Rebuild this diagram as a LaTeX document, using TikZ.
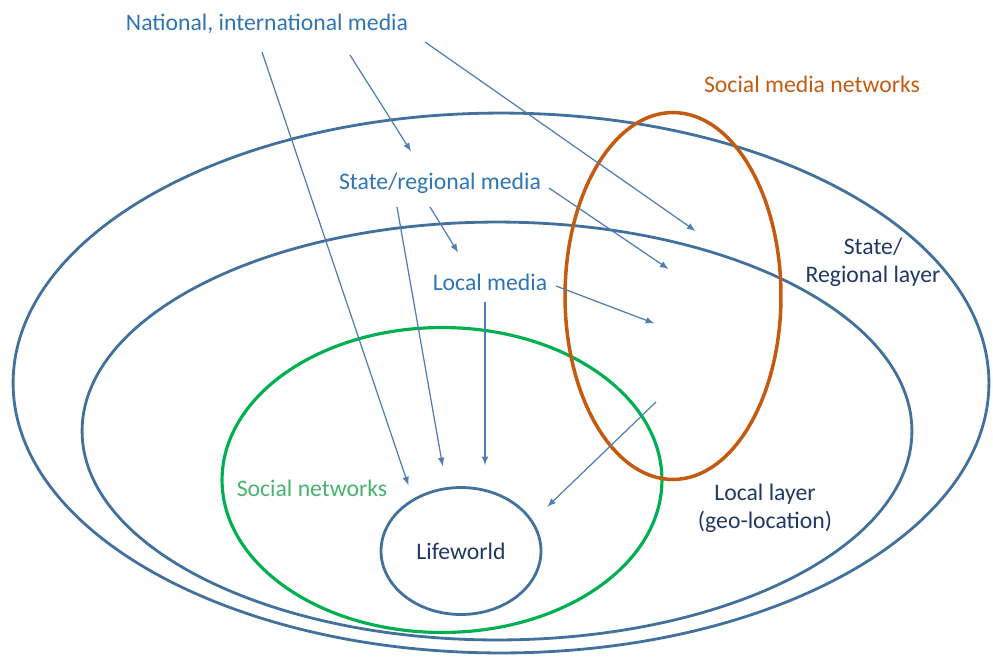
\documentclass[tikz,border=0pt]{standalone}
\usepackage{fontspec}
\setmainfont{Carlito}
\usepackage{tikz}
\usetikzlibrary{arrows,shapes.geometric}
\usetikzlibrary{positioning}

\definecolor{layerblue}{RGB}{65,113,156}
\definecolor{mediablue}{RGB}{46,117,182}
\definecolor{arrowblue}{RGB}{80,125,180}
\definecolor{layertext}{RGB}{32,56,100}
\definecolor{netgreen}{RGB}{0,176,80}
\definecolor{socgreen}{RGB}{70,180,110}
\definecolor{smorange}{RGB}{197,90,17}

\begin{document}
\begin{tikzpicture}[x=0.02cm, y=-0.02cm, font=\fontsize{13.5}{16}\selectfont,
  layer/.style={draw=layerblue, line width=1.6pt, ellipse, inner sep=0pt},
  media/.style={text=mediablue},
  feed/.style={-latex, draw=arrowblue, line width=0.7pt, shorten >=1pt}]
  \useasboundingbox (0,0) rectangle (993,656);

  % the layers, outer to inner
  \node[layer, minimum width=19.52cm, minimum height=10.8cm] (state)  at (501,383) {};
  \node[layer, minimum width=16.6cm, minimum height=8.36cm] (local)  at (497,431) {};
  \node[layer, draw=netgreen, line width=1.8pt, minimum width=8.8cm, minimum height=6.1cm] (social) at (442,480) {};
  \node[layer, draw=smorange, line width=2pt, minimum width=4.32cm, minimum height=7.34cm] (smn) at (673,296) {};
  \node[layer, minimum width=3.2cm, minimum height=2.54cm, text=layertext] (life) at (461,551) {Lifeworld};

  % labels
  \node[media] (nat)  at (267,24)  {National, international media};
  \node[media] (reg)  at (440,183) {State/regional media};
  \node[media] (loc)  at (490,282) {Local media};
  \node[text=smorange] (smnlbl) at (812,84) {Social media networks};
  \node[text=socgreen] (soclbl) at (312,488) {Social networks};
  \node[text=layertext, align=center] (statelbl) at (873,262) {State/\\Regional layer};
  \node[text=layertext, align=center] (loclbl)   at (765,508) {Local layer\\(geo-location)};

  % arrow ends
  \coordinate (n1) at (262,52);  \coordinate (n1e) at (409,487);
  \coordinate (n2) at (350,55);  \coordinate (n2e) at (412,153);
  \coordinate (n3) at (425,42);  \coordinate (n3e) at (697,232);
  \coordinate (r1) at (397,207); \coordinate (r1e) at (443,468);
  \coordinate (r2) at (430,207); \coordinate (r2e) at (459,254);
  \coordinate (r3) at (549,188); \coordinate (r3e) at (670,270);
  \coordinate (l1) at (485,302); \coordinate (l1e) at (485,467);
  \coordinate (l2) at (556,286); \coordinate (l2e) at (656,324);
  \coordinate (s1) at (656,402); \coordinate (s1e) at (546,508);

  \draw[feed] (n1) -- (n1e);
  \draw[feed] (n2) -- (n2e);
  \draw[feed] (n3) -- (n3e);
  \draw[feed] (r1) -- (r1e);
  \draw[feed] (r2) -- (r2e);
  \draw[feed] (r3) -- (r3e);
  \draw[feed] (l1) -- (l1e);
  \draw[feed] (l2) -- (l2e);
  \draw[feed] (s1) -- (s1e);

\end{tikzpicture}
\end{document}
